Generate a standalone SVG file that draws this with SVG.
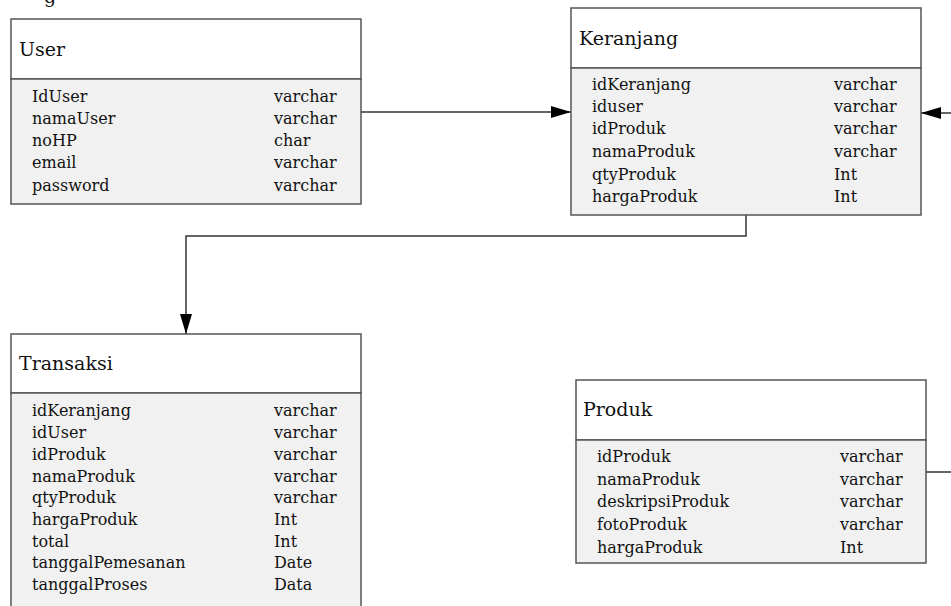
<svg xmlns="http://www.w3.org/2000/svg" width="951" height="606" viewBox="0 0 951 606">
<style>
.hdr{fill:#ffffff;stroke:#555;stroke-width:1.5}
.body{fill:#f1f1f1;stroke:#555;stroke-width:1.5}
.t{font-family:"DejaVu Serif","Liberation Serif",serif;font-size:16px;fill:#111}
.h{font-family:"DejaVu Serif","Liberation Serif",serif;font-size:19px;fill:#111}
.c{fill:none;stroke:#333;stroke-width:1.5}
</style>
<defs>
<marker id="arr" viewBox="0 0 20 12" refX="20" refY="6" markerWidth="20" markerHeight="12" markerUnits="userSpaceOnUse" orient="auto">
<path d="M0,0 L20,6 L0,12 Z" fill="#000"/>
</marker>
</defs>
<text class="h" x="44" y="3" font-size="22">g</text>
<g id="connectors">
<line class="c" x1="361" y1="112" x2="571" y2="112" marker-end="url(#arr)"/>
<line class="c" x1="951" y1="113" x2="921" y2="113" marker-end="url(#arr)"/>
<line class="c" x1="926" y1="472" x2="951" y2="472"/>
<polyline class="c" points="746,215 746,236 186,236 186,334" marker-end="url(#arr)"/>
</g>
<g id="user">
<rect class="hdr" x="11" y="19" width="350" height="60"/>
<rect class="body" x="11" y="79" width="350" height="125"/>
<text class="h" x="19" y="56">User</text>
<text class="t" x="32" y="102">IdUser</text><text class="t" x="274" y="102">varchar</text>
<text class="t" x="32" y="124">namaUser</text><text class="t" x="274" y="124">varchar</text>
<text class="t" x="32" y="146">noHP</text><text class="t" x="274" y="146">char</text>
<text class="t" x="32" y="168">email</text><text class="t" x="274" y="168">varchar</text>
<text class="t" x="32" y="191">password</text><text class="t" x="274" y="191">varchar</text>
</g>
<g id="keranjang">
<rect class="hdr" x="571" y="8" width="350" height="60"/>
<rect class="body" x="571" y="68" width="350" height="147"/>
<text class="h" x="579" y="45">Keranjang</text>
<text class="t" x="592" y="90">idKeranjang</text><text class="t" x="834" y="90">varchar</text>
<text class="t" x="592" y="112">iduser</text><text class="t" x="834" y="112">varchar</text>
<text class="t" x="592" y="134">idProduk</text><text class="t" x="834" y="134">varchar</text>
<text class="t" x="592" y="157">namaProduk</text><text class="t" x="834" y="157">varchar</text>
<text class="t" x="592" y="180">qtyProduk</text><text class="t" x="834" y="180">Int</text>
<text class="t" x="592" y="202">hargaProduk</text><text class="t" x="834" y="202">Int</text>
</g>
<g id="transaksi">
<rect class="hdr" x="11" y="334" width="350" height="59"/>
<rect class="body" x="11" y="393" width="350" height="220"/>
<text class="h" x="19" y="370">Transaksi</text>
<text class="t" x="32" y="416">idKeranjang</text><text class="t" x="274" y="416">varchar</text>
<text class="t" x="32" y="438">idUser</text><text class="t" x="274" y="438">varchar</text>
<text class="t" x="32" y="460">idProduk</text><text class="t" x="274" y="460">varchar</text>
<text class="t" x="32" y="482">namaProduk</text><text class="t" x="274" y="482">varchar</text>
<text class="t" x="32" y="503">qtyProduk</text><text class="t" x="274" y="503">varchar</text>
<text class="t" x="32" y="525">hargaProduk</text><text class="t" x="274" y="525">Int</text>
<text class="t" x="32" y="547">total</text><text class="t" x="274" y="547">Int</text>
<text class="t" x="32" y="568">tanggalPemesanan</text><text class="t" x="274" y="568">Date</text>
<text class="t" x="32" y="590">tanggalProses</text><text class="t" x="274" y="590">Data</text>
</g>
<g id="produk">
<rect class="hdr" x="576" y="380" width="350" height="60"/>
<rect class="body" x="576" y="440" width="350" height="123"/>
<text class="h" x="583" y="416">Produk</text>
<text class="t" x="597" y="462">idProduk</text><text class="t" x="840" y="462">varchar</text>
<text class="t" x="597" y="485">namaProduk</text><text class="t" x="840" y="485">varchar</text>
<text class="t" x="597" y="507">deskripsiProduk</text><text class="t" x="840" y="507">varchar</text>
<text class="t" x="597" y="530">fotoProduk</text><text class="t" x="840" y="530">varchar</text>
<text class="t" x="597" y="553">hargaProduk</text><text class="t" x="840" y="553">Int</text>
</g>
</svg>
